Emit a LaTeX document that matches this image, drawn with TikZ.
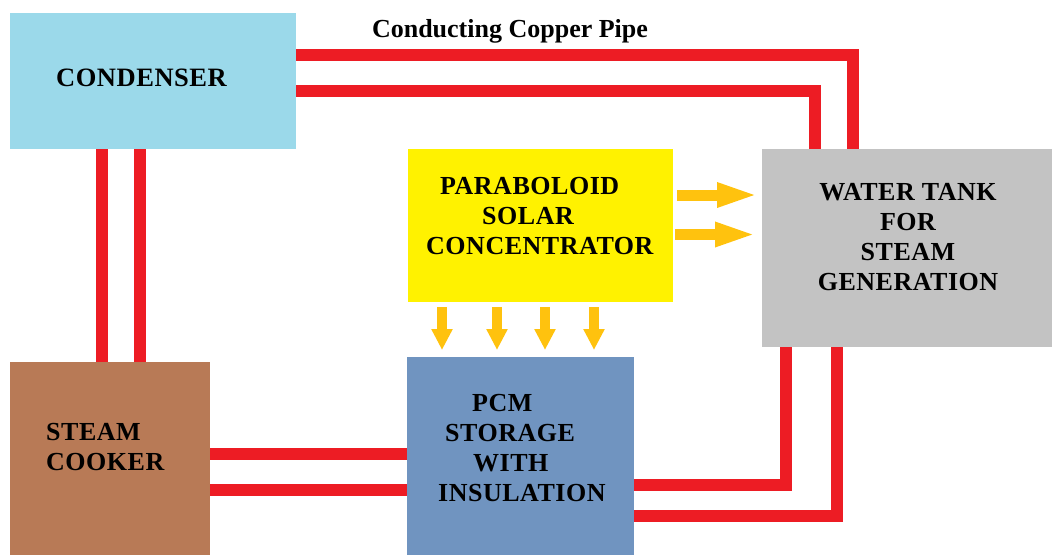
\documentclass[tikz,border=0pt]{standalone}
\usepackage{fontspec}
\setmainfont{Liberation Serif}[LetterSpace=2]
\newfontfamily\plainserif{Liberation Serif}
\usetikzlibrary{arrows.meta}
\definecolor{condblue}{HTML}{9BD9EA}
\definecolor{solaryellow}{HTML}{FFF200}
\definecolor{tankgray}{HTML}{C3C3C3}
\definecolor{cookerbrown}{HTML}{B87A56}
\definecolor{pcmblue}{HTML}{7094C0}
\definecolor{pipered}{HTML}{ED1C24}
\definecolor{arrowyellow}{HTML}{FFC20E}
\begin{document}
\begin{tikzpicture}[x=1pt,y=-1pt,
  box/.style={draw=none, inner sep=0pt, outer sep=0pt},
  txt/.style={inner sep=0pt, font=\bfseries\fontsize{26}{30}\selectfont, align=left},
  pipe/.style={draw=pipered, line width=12.5pt},
  rarrow/.style={draw=arrowyellow, line width=11pt, -{Triangle[length=42pt,width=22pt]}},
  darrow/.style={draw=arrowyellow, line width=10pt, -{Triangle[length=21pt,width=20pt]}}]
\useasboundingbox (0,0) rectangle (1052,555);
% boxes
\node[box, fill=condblue, minimum width=286pt, minimum height=136pt] (cond) at (153,81) {};
\node[box, fill=solaryellow, minimum width=265pt, minimum height=153pt] (yel) at (540.5,225.5) {};
\node[box, fill=tankgray, minimum width=290pt, minimum height=198pt] (tank) at (907,248) {};
\node[box, fill=cookerbrown, minimum width=200pt, minimum height=193pt] (cooker) at (110,458.5) {};
\node[box, fill=pcmblue, minimum width=227pt, minimum height=198pt] (pcm) at (520.5,456) {};
% pipes
\draw[pipe] (cond.east |- 0,55) -| (tank.north -| 853,0);
\draw[pipe] (cond.east |- 0,91) -| (tank.north -| 815,0);
\draw[pipe] (cond.south -| 102,0) -- (cooker.north -| 102,0);
\draw[pipe] (cond.south -| 140,0) -- (cooker.north -| 140,0);
\draw[pipe] (cooker.east |- 0,454) -- (pcm.west |- 0,454);
\draw[pipe] (cooker.east |- 0,490) -- (pcm.west |- 0,490);
\draw[pipe] (pcm.east |- 0,485) -| (tank.south -| 786,0);
\draw[pipe] (pcm.east |- 0,516) -| (tank.south -| 837,0);
% arrows
\draw[rarrow, shorten <=4pt, shorten >=3pt] (yel.east |- 0,195) -- (tank.west |- 0,195);
\draw[rarrow, shorten <=2pt, shorten >=5pt] (yel.east |- 0,234.5) -- (tank.west |- 0,234.5);
\foreach \xx in {442,497,545,594}
  \draw[darrow, shorten <=5pt, shorten >=7pt] (yel.south -| \xx,0) -- (pcm.north -| \xx,0);
% texts
\node[txt, font=\bfseries\fontsize{26.5}{30}\selectfont] (condtxt) at (141.5,78) {CONDENSER};
\node[txt, anchor=west] (yeltxt) at (426,216.5) {\hspace*{14pt}PARABOLOID\\\hspace*{56pt}SOLAR\\CONCENTRATOR};
\node[txt, align=center] (tanktxt) at (908,237.5) {WATER TANK\\FOR\\STEAM\\GENERATION};
\node[txt, anchor=west] (pcmtxt) at (438,448.5) {\hspace*{34pt}PCM\\\hspace*{7pt}STORAGE\\\hspace*{35pt}WITH\\INSULATION};
\node[txt, anchor=west] (cookertxt) at (46,447) {STEAM\\COOKER};
\node[txt, anchor=base, font=\plainserif\bfseries\fontsize{26}{30}\selectfont] (pipetxt) at (510,37) {Conducting Copper Pipe};
\end{tikzpicture}
\end{document}
